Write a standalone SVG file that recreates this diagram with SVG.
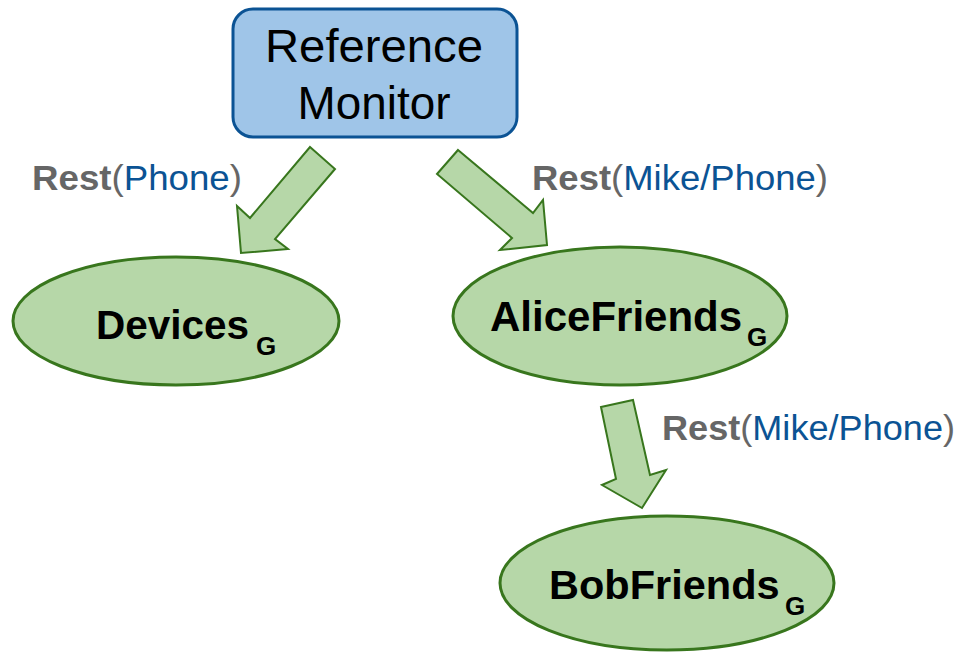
<svg xmlns="http://www.w3.org/2000/svg" width="963" height="652" viewBox="0 0 963 652">
<style>
.node{fill:#b6d7a8;stroke:#38761d;stroke-width:3}
.arrow{fill:#b6d7a8;stroke:#38761d;stroke-width:2;stroke-linejoin:miter}
.nt{font-family:"Liberation Sans",Arial,sans-serif;font-weight:bold;font-size:42px;fill:#000}
.sub{font-family:"Liberation Sans",Arial,sans-serif;font-weight:bold;font-size:26px;fill:#000}
.lbl{font-family:"Liberation Sans",Arial,sans-serif;font-size:35px;fill:#666666}
.b{font-weight:bold}
.blue{fill:#0b5394}
</style>
<rect width="963" height="652" fill="#ffffff"/>
<g id="monitor">
<rect x="233" y="9" width="284" height="128" rx="20" ry="20" fill="#9fc5e8" stroke="#0b5394" stroke-width="3"/>
<text x="374" y="62" text-anchor="middle" font-family="'Liberation Sans',Arial,sans-serif" font-size="46" fill="#000" textLength="218" lengthAdjust="spacingAndGlyphs">Reference</text>
<text x="374" y="119" text-anchor="middle" font-family="'Liberation Sans',Arial,sans-serif" font-size="46" fill="#000" textLength="153" lengthAdjust="spacingAndGlyphs">Monitor</text>
</g>
<g id="devices">
<ellipse class="node" cx="176" cy="321" rx="163" ry="64"/>
<text class="nt" x="96" y="339" style="font-size:40.5px">Devices</text>
<text class="sub" x="256" y="355">G</text>
</g>
<g id="alicefriends">
<ellipse class="node" cx="620" cy="316" rx="167" ry="69"/>
<text class="nt" x="490" y="331">AliceFriends</text>
<text class="sub" x="747" y="346">G</text>
</g>
<g id="bobfriends">
<ellipse class="node" cx="667" cy="583" rx="167" ry="67"/>
<text class="nt" x="549" y="599" style="font-size:41.5px">BobFriends</text>
<text class="sub" x="785" y="615">G</text>
</g>
<g id="connectors">
<polygon class="arrow" points="310,147 335,169 275,239 288,249 241,253 237,206 250,218"/>
<polygon class="arrow" points="458,150 533,213 543,200 547,245 500,250 512,238 437,174"/>
<polygon class="arrow" points="601,407 633,400 650,475 666,470 642,508 602,485 616,479"/>
<text class="lbl" x="32" y="190" textLength="210" lengthAdjust="spacingAndGlyphs"><tspan class="b">Rest</tspan>(<tspan class="blue">Phone</tspan>)</text>
<text class="lbl" x="532" y="190" textLength="296" lengthAdjust="spacingAndGlyphs"><tspan class="b">Rest</tspan>(<tspan class="blue">Mike/Phone</tspan>)</text>
<text class="lbl" x="662" y="440" textLength="293" lengthAdjust="spacingAndGlyphs"><tspan class="b">Rest</tspan>(<tspan class="blue">Mike/Phone</tspan>)</text>
</g>
</svg>
